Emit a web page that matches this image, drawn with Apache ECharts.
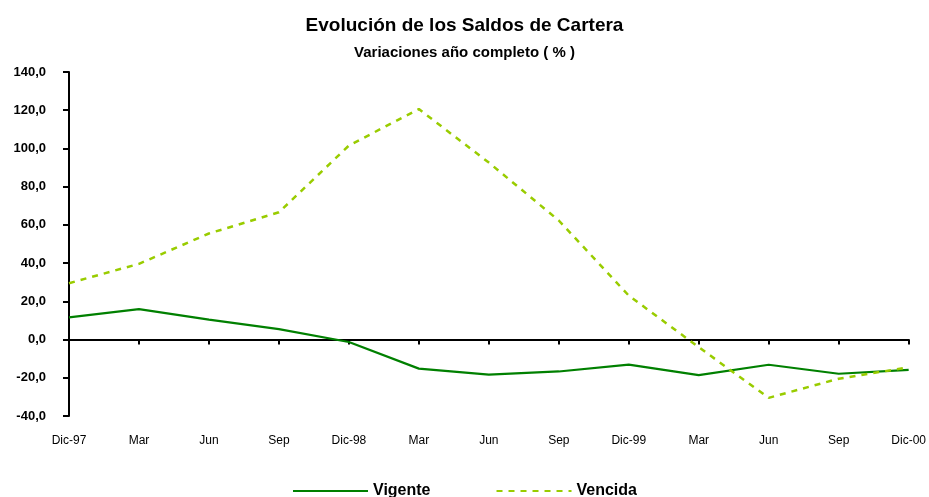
<!DOCTYPE html>
<html><head><meta charset="utf-8">
<script src="https://cdn.jsdelivr.net/npm/echarts@6/dist/echarts.min.js"></script>
<style>html,body{margin:0;padding:0;background:#fff}#c{width:929px;height:497px}</style>
</head><body><div id="c"></div>
<script>
const categories = ['Dic-97','Mar','Jun','Sep','Dic-98','Mar','Jun','Sep','Dic-99','Mar','Jun','Sep','Dic-00'];
const vigente = [11.6, 15.9, 10.4, 5.5, -1.3, -15.2, -18.4, -16.7, -13.1, -18.6, -13.2, -17.9, -15.9];
const vencida = [29.5, 39.6, 55.5, 66.6, 101.5, 120.6, 92.6, 62.3, 23.0, -4.0, -30.5, -20.5, -14.5];
const FONT = '"Liberation Sans Narrow", "Liberation Sans", Arial, sans-serif';
const chart = echarts.init(document.getElementById('c'));
chart.setOption({
  animation: false,
  title: {
    text: 'Evolución de los Saldos de Cartera',
    subtext: 'Variaciones año completo ( % )',
    left: 'center', top: 11, itemGap: 10,
    textStyle: {fontFamily: FONT, fontWeight: 'bold', fontSize: 19, color: '#000'},
    subtextStyle: {fontFamily: FONT, fontWeight: 'bold', fontSize: 15, color: '#000'}
  },
  legend: {
    bottom: -7, left: 'center', itemWidth: 75, itemHeight: 14, itemGap: 65,
    itemStyle: {opacity: 0},
    textStyle: {fontFamily: FONT, fontWeight: 'bold', fontSize: 16, color: '#000'},
    data: ['Vigente', 'Vencida']
  },
  grid: {left: 69, right: 17, top: 72, bottom: 81},
  xAxis: [{
    type: 'category', data: categories, boundaryGap: false,
    axisLine: {onZero: true, lineStyle: {color: '#000', width: 2}},
    axisTick: {show: true, length: 5, lineStyle: {color: '#000', width: 2}},
    axisLabel: {show: false}
  }, {
    type: 'category', data: categories, boundaryGap: false, position: 'bottom',
    axisLine: {show: false, onZero: false}, axisTick: {show: false},
    axisLabel: {fontFamily: FONT, fontSize: 12, color: '#000', margin: 19, interval: 0}
  }],
  yAxis: {
    type: 'value', min: -40, max: 140, interval: 20,
    axisLine: {show: true, lineStyle: {color: '#000', width: 2}},
    axisTick: {show: true, length: 6, lineStyle: {color: '#000', width: 2}},
    splitLine: {show: false},
    axisLabel: {fontFamily: FONT, fontWeight: 'bold', fontSize: 13, color: '#000', margin: 23,
      formatter: v => v.toFixed(1).replace('.', ',')}
  },
  series: [{
    name: 'Vigente', type: 'line', data: vigente, symbol: 'none',
    lineStyle: {color: '#008000', width: 2.2}, itemStyle: {color: '#008000'}
  }, {
    name: 'Vencida', type: 'line', data: vencida, symbol: 'none',
    lineStyle: {color: '#99cc00', width: 2.5, type: [6, 6]}, itemStyle: {color: '#99cc00'}
  }]
});
</script></body></html>
